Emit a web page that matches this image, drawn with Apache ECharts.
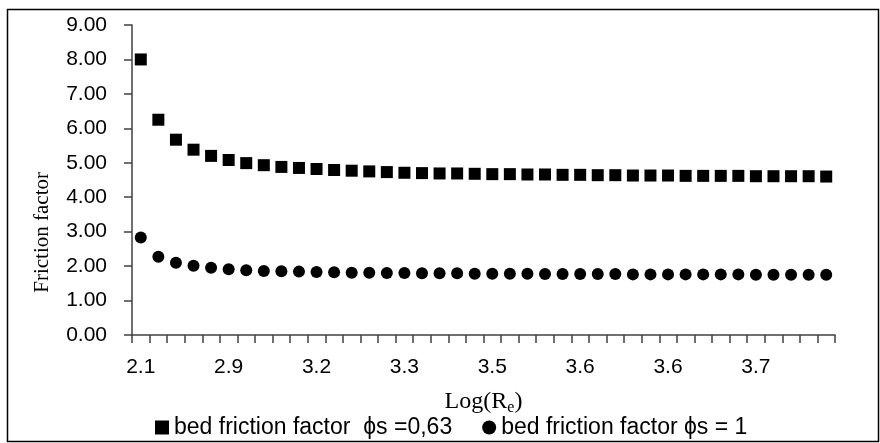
<!DOCTYPE html>
<html>
<head>
<meta charset="utf-8">
<script src="https://cdn.jsdelivr.net/npm/echarts@6/dist/echarts.min.js"></script>
<style>
  html, body { margin: 0; padding: 0; background: #fff; }
  #chart { width: 880px; height: 443px; }
</style>
</head>
<body>
<div id="chart"></div>
<script>
const logRe = [
  '2.1', '2.4', '2.6', '2.7', '2.8', '2.9', '3.0', '3.0', '3.1', '3.1',
  '3.2', '3.2', '3.2', '3.3', '3.3', '3.3', '3.4', '3.4', '3.4', '3.4',
  '3.5', '3.5', '3.5', '3.5', '3.5', '3.6', '3.6', '3.6', '3.6', '3.6',
  '3.6', '3.6', '3.6', '3.7', '3.7', '3.7', '3.7', '3.7', '3.7', '3.7',
]

const bedFriction063 = [
  8.00, 6.25, 5.67, 5.38, 5.20, 5.08, 4.99, 4.93, 4.88, 4.85,
  4.82, 4.79, 4.77, 4.75, 4.73, 4.71, 4.70, 4.69, 4.69, 4.68,
  4.67, 4.67, 4.66, 4.66, 4.65, 4.65, 4.64, 4.64, 4.63, 4.63,
  4.63, 4.62, 4.62, 4.62, 4.62, 4.61, 4.61, 4.61, 4.61, 4.60,
]

const bedFriction1 = [
  2.83, 2.27, 2.10, 2.01, 1.95, 1.91, 1.88, 1.86, 1.85, 1.84,
  1.83, 1.82, 1.81, 1.81, 1.80, 1.80, 1.79, 1.79, 1.79, 1.78,
  1.78, 1.78, 1.78, 1.77, 1.77, 1.77, 1.77, 1.77, 1.76, 1.76,
  1.76, 1.76, 1.76, 1.76, 1.76, 1.75, 1.75, 1.75, 1.75, 1.75,
]

const SERIES_NAMES = ['bed friction factor  ϕs =0,63', 'bed friction factor ϕs = 1']

const SANS = '"Liberation Sans", Arial, sans-serif'
const SERIF = '"Liberation Serif", "Times New Roman", serif'
const AXIS_COLOR = '#404040'

const chart = echarts.init(document.getElementById('chart'), null, { renderer: 'canvas' })

chart.setOption({
  animation: false,
  backgroundColor: '#fff',
  textStyle: { fontFamily: SANS, color: '#000' },
  grid: { left: 132, right: 45, top: 25, bottom: 108 },
  legend: {
    left: 150,
    top: 411,
    itemWidth: 14,
    itemHeight: 14,
    itemGap: 30,
    textStyle: { fontSize: 23, color: '#000', fontFamily: SANS },
    data: [
      { name: SERIES_NAMES[0], icon: 'rect' },
      { name: SERIES_NAMES[1], icon: 'circle' },
    ],
  },
  xAxis: {
    type: 'category',
    data: logRe,
    boundaryGap: true,
    name: 'Log(R{sub|e})',
    nameLocation: 'middle',
    nameGap: 53,
    nameTextStyle: {
      fontFamily: SERIF,
      fontSize: 24,
      color: '#000',
      rich: {
        sub: { fontFamily: SERIF, fontSize: 16, color: '#000', verticalAlign: 'bottom', padding: [12, 0, 0, 0] },
      },
    },
    axisLine: { lineStyle: { color: AXIS_COLOR, width: 1.5 } },
    axisTick: { show: true, interval: 0, length: 8, lineStyle: { color: AXIS_COLOR, width: 1.5 } },
    axisLabel: { interval: 4, margin: 22, fontSize: 21, color: '#000', fontFamily: SANS },
    splitLine: { show: false },
  },
  yAxis: {
    type: 'value',
    min: 0,
    max: 9,
    interval: 1,
    axisLine: { show: true, lineStyle: { color: AXIS_COLOR, width: 1.5 } },
    axisTick: { show: true, length: 8, lineStyle: { color: AXIS_COLOR, width: 1.5 } },
    axisLabel: {
      margin: 25,
      fontSize: 21,
      color: '#000',
      fontFamily: SANS,
      formatter: (v) => v.toFixed(2),
    },
    splitLine: { show: false },
  },
  graphic: [
    {
      type: 'text',
      left: 32,
      top: 172,
      rotation: Math.PI / 2,
      style: { text: 'Friction factor', font: '21px ' + SERIF, fill: '#000' },
    },
    {
      type: 'rect',
      shape: { x: 7.5, y: 9.5, width: 871, height: 432 },
      style: { fill: 'none', stroke: '#000', lineWidth: 1.5 },
      silent: true,
    },
  ],
  series: [
    {
      name: SERIES_NAMES[0],
      type: 'line',
      data: bedFriction063,
      symbol: 'rect',
      symbolSize: 12,
      showAllSymbol: true,
      lineStyle: { width: 0, opacity: 0 },
      itemStyle: { color: '#000' },
    },
    {
      name: SERIES_NAMES[1],
      type: 'line',
      data: bedFriction1,
      symbol: 'circle',
      symbolSize: 12,
      showAllSymbol: true,
      lineStyle: { width: 0, opacity: 0 },
      itemStyle: { color: '#000' },
    },
  ],
})
</script>
</body>
</html>
